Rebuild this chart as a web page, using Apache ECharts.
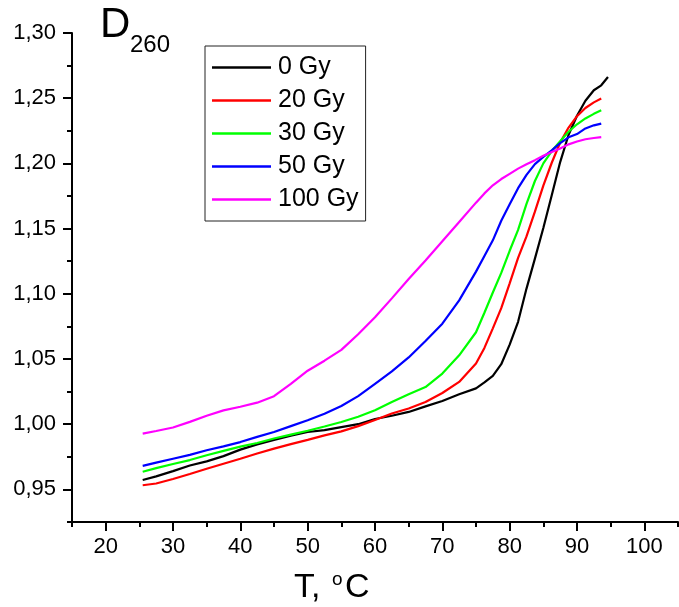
<!DOCTYPE html>
<html>
<head>
<meta charset="utf-8">
<script src="https://cdn.jsdelivr.net/npm/echarts@6/dist/echarts.min.js"></script>
<style>html,body{margin:0;padding:0;background:#fff;}#c{width:679px;height:607px;}</style>
</head>
<body>
<div id="c"></div>
<script>
const temps = [25.5, 27.5, 30, 32.5, 35, 37.5, 40, 42.5, 45, 47.5, 50, 52.5, 55, 57.5, 60, 62.5, 65, 67.5, 70, 72.5, 75, 76.25, 77.5, 78.75, 80, 81.25, 82.5, 83.75, 85, 86.25, 87.5, 88.75, 90, 91.25, 92.5, 93.6];
const tempsBlack = [25.5, 27.5, 30, 32.5, 35, 37.5, 40, 42.5, 45, 47.5, 50, 52.5, 55, 57.5, 60, 62.5, 65, 67.5, 70, 72.5, 75, 76.25, 77.5, 78.75, 80, 81.25, 82.5, 83.75, 85, 86.25, 87.5, 88.75, 90, 91.25, 92.5, 93.6, 94.6];
const gy0 = [0.9572, 0.9600, 0.9640, 0.9683, 0.9715, 0.9755, 0.9805, 0.9845, 0.9880, 0.9912, 0.9940, 0.9955, 0.9978, 1.0000, 1.0040, 1.0065, 1.0094, 1.0137, 1.0178, 1.0229, 1.0275, 1.0320, 1.0370, 1.0460, 1.0610, 1.0785, 1.1040, 1.1270, 1.1505, 1.1755, 1.2010, 1.2220, 1.2365, 1.2480, 1.2561, 1.2599, 1.2663];
const gy20 = [0.9532, 0.9545, 0.9580, 0.9618, 0.9658, 0.9697, 0.9735, 0.9775, 0.9813, 0.9847, 0.9880, 0.9914, 0.9945, 0.9985, 1.0032, 1.0082, 1.0120, 1.0170, 1.0239, 1.0324, 1.0465, 1.0585, 1.0735, 1.0890, 1.1080, 1.1275, 1.1440, 1.1630, 1.1830, 1.2005, 1.2160, 1.2275, 1.2362, 1.2425, 1.2468, 1.2497];
const gy30 = [0.9635, 0.9663, 0.9695, 0.9725, 0.9762, 0.9795, 0.9828, 0.9856, 0.9890, 0.9920, 0.9950, 0.9982, 1.0017, 1.0057, 1.0107, 1.0170, 1.0230, 1.0285, 1.0388, 1.0528, 1.0705, 1.0855, 1.1010, 1.1160, 1.1330, 1.1490, 1.1690, 1.1865, 1.2000, 1.2095, 1.2170, 1.2243, 1.2300, 1.2345, 1.2380, 1.2407];
const gy50 = [0.9680, 0.9705, 0.9735, 0.9765, 0.9800, 0.9830, 0.9863, 0.9903, 0.9940, 0.9985, 1.0030, 1.0080, 1.0140, 1.0215, 1.0310, 1.0405, 1.0512, 1.0638, 1.0771, 1.0950, 1.1170, 1.1290, 1.1410, 1.1560, 1.1686, 1.1810, 1.1912, 1.1995, 1.2050, 1.2100, 1.2155, 1.2200, 1.2225, 1.2268, 1.2292, 1.2305];
const gy100 = [0.9928, 0.9948, 0.9975, 1.0018, 1.0065, 1.0106, 1.0134, 1.0165, 1.0215, 1.0310, 1.0410, 1.0487, 1.0570, 1.0690, 1.0820, 1.0965, 1.1113, 1.1256, 1.1403, 1.1551, 1.1699, 1.1770, 1.1832, 1.1880, 1.1920, 1.1960, 1.1993, 1.2025, 1.2058, 1.2087, 1.2115, 1.2146, 1.2168, 1.2185, 1.2195, 1.2202];
const seriesNames = ['0 Gy', '20 Gy', '30 Gy', '50 Gy', '100 Gy'];
const seriesColors = ['#000000', '#ff0000', '#00ff00', '#0000ff', '#ff00ff'];
const xMajorTicks = [20, 30, 40, 50, 60, 70, 80, 90, 100];
const xMinorTicks = [15, 25, 35, 45, 55, 65, 75, 85, 95, 105];
const yMajorTicks = [0.95, 1.00, 1.05, 1.10, 1.15, 1.20, 1.25, 1.30];
const yMinorTicks = [0.925, 0.975, 1.025, 1.075, 1.125, 1.175, 1.225, 1.275];

const FONT = 'Liberation Sans, Arial, sans-serif';
const pair = (xs, ys) => ys.map((v, i) => [xs[i], v]);
const seriesData = [pair(tempsBlack, gy0), pair(temps, gy20), pair(temps, gy30), pair(temps, gy50), pair(temps, gy100)];

const chart = echarts.init(document.getElementById('c'), null, {renderer: 'canvas'});
const axisLineStyle = {color: '#000', width: 2};
chart.setOption({
  animation: false,
  backgroundColor: '#fff',
  grid: {left: 72, right: 1, top: 33, bottom: 85, containLabel: false},
  xAxis: [
    {type: 'value', min: 15, max: 105, position: 'bottom',
     axisLine: {onZero: false, lineStyle: axisLineStyle},
     axisTick: {customValues: xMajorTicks, length: 9, lineStyle: axisLineStyle},
     axisLabel: {customValues: xMajorTicks, fontSize: 22, color: '#000', fontFamily: FONT, margin: 14},
     splitLine: {show: false}},
    {type: 'value', min: 15, max: 105, position: 'bottom',
     axisLine: {show: false, onZero: false},
     axisTick: {customValues: xMinorTicks, length: 5, lineStyle: axisLineStyle},
     axisLabel: {show: false}, splitLine: {show: false}}
  ],
  yAxis: [
    {type: 'value', min: 0.925, max: 1.30, position: 'left',
     axisLine: {show: true, onZero: false, lineStyle: axisLineStyle},
     axisTick: {customValues: yMajorTicks, length: 9, lineStyle: axisLineStyle},
     axisLabel: {customValues: yMajorTicks, fontSize: 22, color: '#000', fontFamily: FONT, margin: 16,
                 formatter: v => v.toFixed(2).replace('.', ',')},
     splitLine: {show: false}},
    {type: 'value', min: 0.925, max: 1.30, position: 'left',
     axisLine: {show: false, onZero: false},
     axisTick: {customValues: yMinorTicks, length: 5, lineStyle: axisLineStyle},
     axisLabel: {show: false}, splitLine: {show: false}}
  ],
  legend: {
    orient: 'vertical', left: 205, top: 46,
    padding: [9, 7, 9, 7], itemGap: 8, itemWidth: 59, itemHeight: 2.5,
    icon: 'rect',
    borderColor: '#222', borderWidth: 1, backgroundColor: '#fff',
    textStyle: {fontSize: 25, color: '#000', fontFamily: FONT, lineHeight: 24, padding: [0, 0, 0, 2]},
    data: seriesNames
  },
  series: seriesNames.map((n, i) => ({
    name: n, type: 'line', xAxisIndex: 0, yAxisIndex: 0,
    data: seriesData[i], symbol: 'none', showSymbol: false,
    lineStyle: {color: seriesColors[i], width: 2.2}, itemStyle: {color: seriesColors[i]},
    z: 2
  })),
  graphic: [
    {type: 'text', left: 100, top: 4, style: {text: 'D', font: '42px ' + FONT, fill: '#000'}},
    {type: 'text', left: 130, top: 33, style: {text: '260', font: '24px ' + FONT, fill: '#000'}},
    {type: 'text', left: 294, top: 571, style: {text: 'T,', font: '34px ' + FONT, fill: '#000'}},
    {type: 'text', left: 332, top: 570, style: {text: 'o', font: '19px ' + FONT, fill: '#000'}},
    {type: 'text', left: 345, top: 571, style: {text: 'C', font: '34px ' + FONT, fill: '#000'}}
  ]
});
</script>
</body>
</html>
